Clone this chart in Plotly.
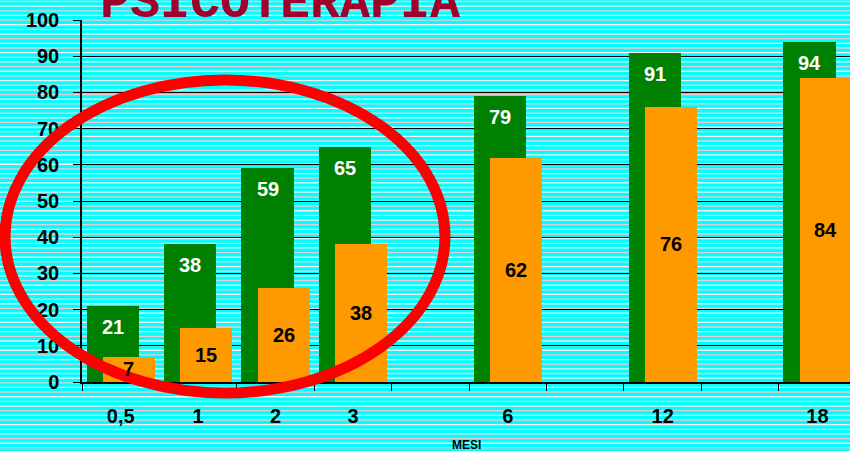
import plotly.graph_objects as go

# ---- data ----
slots = ['0,5', '1', '2', '3', ' ', '6', '  ', '12', '   ', '18']
months = ['0,5', '1', '2', '3', '6', '12', '18']
green_vals = [21, 38, 59, 65, 79, 91, 94]
orange_vals = [7, 15, 26, 38, 62, 76, 84]
title_text = 'PSICOTERAPIA'
x_title = 'MESI'

W, H = 850, 451
ML, MR, MT, MB = 82, 0, 20, 69
PW = W - ML - MR
PH = H - MT - MB

def px_x(px):
    return (px - ML) / PW

def px_y(py):
    return (H - MB - py) / PH

GREEN = '#008000'
ORANGE = '#FF9900'
FONT = 'Arial, Liberation Sans, sans-serif'

fig = go.Figure()
fig.add_trace(go.Bar(x=months, y=green_vals, width=0.673, offset=-0.44,
                     marker=dict(color=GREEN, line=dict(width=0)), hoverinfo='skip'))
fig.add_trace(go.Bar(x=months, y=orange_vals, width=0.673, offset=-0.232,
                     marker=dict(color=ORANGE, line=dict(width=0)), hoverinfo='skip'))

annotations = []
for m, v in zip(months, green_vals):
    annotations.append(dict(x=slots.index(m), y=v, xref='x', yref='y', text=str(v), showarrow=False,
                            xshift=-8, yshift=-21, yanchor='middle',
                            font=dict(family=FONT, size=20, color='white', weight='bold')))
for m, v in zip(months, orange_vals):
    annotations.append(dict(x=slots.index(m), y=v / 2, xref='x', yref='y', text=str(v), showarrow=False,
                            xshift=8, yanchor='middle',
                            font=dict(family=FONT, size=20, color='black', weight='bold')))
annotations.append(dict(x=px_x(98), y=px_y(34), xref='paper', yref='paper', xanchor='left',
                        yanchor='bottom', text=title_text, showarrow=False,
                        font=dict(family='Liberation Mono, Courier New, monospace', size=50,
                                  color='#A0002C', weight='bold')))
annotations.append(dict(x=0.5, y=px_y(445), xref='paper', yref='paper', xanchor='center',
                        yanchor='middle', text=x_title, showarrow=False,
                        font=dict(family=FONT, size=12, color='black', weight='bold')))

shapes = []
# striped background texture
py = 1.5
i = 0
while py < H:
    shapes.append(dict(type='line', xref='paper', yref='paper', x0=px_x(-2), x1=px_x(W + 2),
                       y0=px_y(py), y1=px_y(py), layer='below',
                       line=dict(color='#E8CCD4' if i % 2 == 0 else '#F2F6F6', width=1.3)))
    py += 4.65
    i += 1
# red ellipse
shapes.append(dict(type='circle', xref='paper', yref='paper', x0=px_x(5), x1=px_x(445),
                   y0=px_y(393), y1=px_y(80), layer='above',
                   line=dict(color='#FF0000', width=11)))

fig.update_layout(
    width=W, height=H,
    margin=dict(l=ML, r=MR, t=MT, b=MB, pad=0),
    paper_bgcolor='#00FFFF', plot_bgcolor='#00FFFF',
    barmode='overlay', showlegend=False, bargap=0,
    annotations=annotations, shapes=shapes,
)
fig.update_xaxes(type='category', categoryorder='array', categoryarray=slots,
                 range=[-0.5, 9.42], tickson='boundaries', ticks='outside', ticklen=7,
                 tickcolor='black', tickwidth=1, showline=True, linecolor='black', linewidth=1.5,
                 showgrid=False, ticklabelstandoff=15,
                 tickfont=dict(family=FONT, size=20, color='black', weight='bold'))
fig.update_yaxes(range=[0, 100], dtick=10, ticks='outside', ticklen=7, tickcolor='black',
                 showline=True, linecolor='black', linewidth=1.5, showgrid=True,
                 gridcolor='black', gridwidth=1.3, zeroline=False, ticklabelstandoff=10,
                 tickfont=dict(family=FONT, size=20, color='black', weight='bold'))

fig.write_html('out.html', config={'displayModeBar': False},
               post_script="document.body.style.margin='0';document.body.style.overflow='hidden';")
